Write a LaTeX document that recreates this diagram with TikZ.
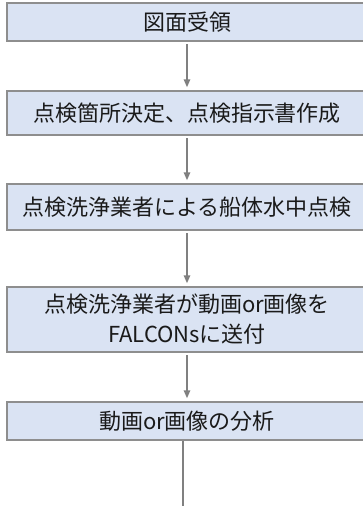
\documentclass[tikz,border=0pt]{standalone}
\usepackage{fontspec}
\setmainfont{Noto Sans CJK JP}
\usetikzlibrary{arrows.meta}
\definecolor{boxfill}{HTML}{DAE3F3}
\definecolor{boxline}{HTML}{8E8E8E}
\definecolor{arrowgray}{HTML}{808080}
\definecolor{txt}{HTML}{1A1A1A}
\tikzset{
  stepbox/.style={draw=boxline, fill=boxfill, line width=1.5pt, minimum width=360pt,
    inner sep=0pt, text=txt, font=\fontsize{22pt}{30pt}\selectfont, align=center},
  flowarrow/.style={draw=arrowgray, line width=1.5pt, -{Triangle[length=8pt,width=6.5pt]},
    shorten <=2.5pt, shorten >=3pt},
  flowline/.style={draw=arrowgray, line width=1.5pt}
}
\begin{document}
\begin{tikzpicture}[x=1pt,y=-1pt]
\useasboundingbox (0,0) rectangle (363,506);
\clip (0,0) rectangle (363,506);
\node[stepbox, minimum height=38pt] (b1) at (187,22) {図面受領};
\node[stepbox, minimum height=44pt] (b2) at (187,113) {点検箇所決定、点検指示書作成};
\node[stepbox, minimum height=46pt] (b3) at (187,207) {点検洗浄業者による船体水中点検};
\node[stepbox, minimum height=65pt] (b4) at (187,319.5) {点検洗浄業者が動画or画像を\\FALCONsに送付};
\node[stepbox, minimum height=38pt] (b5) at (187,421) {動画or画像の分析};
\coordinate (end) at (183,510);
\draw[flowarrow] (b1.south) -- (b2.north);
\draw[flowarrow] (b2.south) -- (b3.north);
\draw[flowarrow] (b3.south) -- (b4.north);
\draw[flowarrow] (b4.south) -- (b5.north);
\draw[flowline] (b5.south -| end) -- (end);
\end{tikzpicture}
\end{document}
